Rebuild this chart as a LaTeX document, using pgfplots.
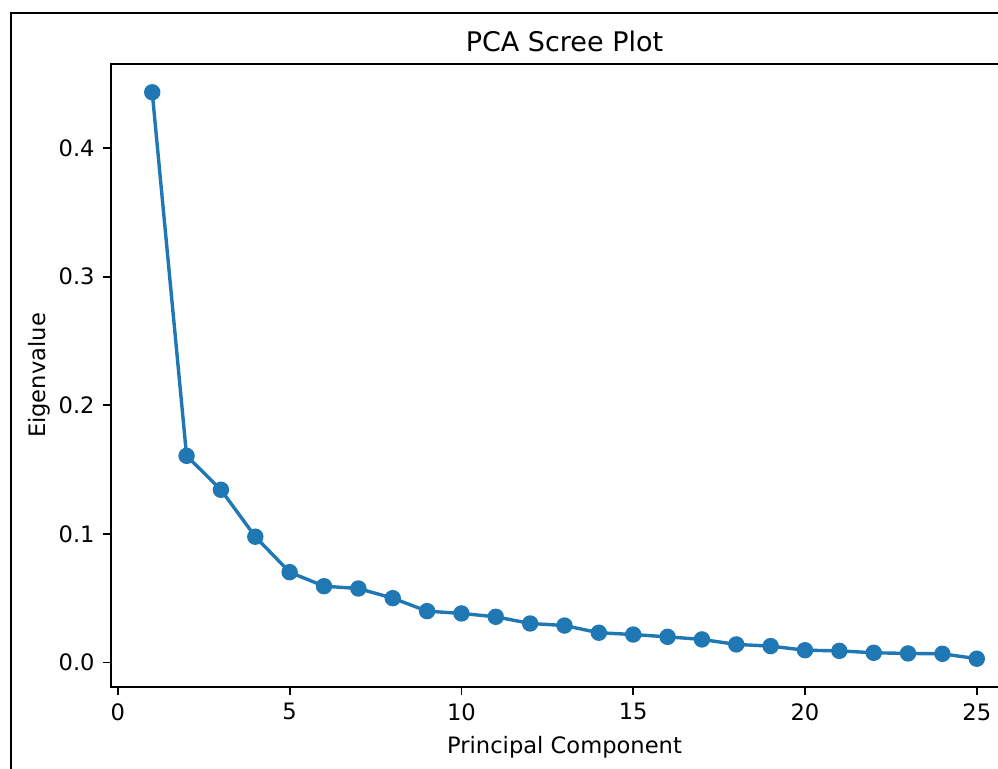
\documentclass[border=0pt]{standalone}
\usepackage{fontspec}
\setmainfont{DejaVu Sans}
\usepackage{pgfplots}
\pgfplotsset{compat=1.18}
\definecolor{mplblue}{HTML}{1F77B4}

\begin{document}
\begin{tikzpicture}
% picture = 998 x 769 px at 0.5pt per px
\useasboundingbox (0,0) rectangle (499pt,384.5pt);
\clip (0,0) rectangle (499pt,384.5pt);
% outer figure frame (cut by the crop on the right and bottom)
\draw[line width=1pt] (5.5pt,-20pt) rectangle (540pt,378pt);
\begin{axis}[
  at={(55.5pt,41pt)}, anchor=south west,
  scale only axis, width=453.5pt, height=311.5pt,
  xmin=-0.2, xmax=26.2, ymin=-0.0191, ymax=0.4655,
  xtick={0,5,10,15,20,25},
  ytick={0,0.1,0.2,0.3,0.4},
  yticklabel={\pgfmathprintnumber[fixed,fixed zerofill,precision=1]{\tick}},
  /pgf/number format/assume math mode=true,
  tick align=outside, major tick length=4pt,
  xtick pos=bottom, ytick pos=left,
  tick style={line width=0.9pt, black},
  axis line style={line width=0.9pt},
  ticklabel style={font=\fontsize{11.3}{13}\selectfont, inner sep=0pt},
  xticklabel style={anchor=north, yshift=-4pt},
  yticklabel style={anchor=east, xshift=-4pt},
  every axis title shift=0pt,
  title={PCA Scree Plot},
  title style={font=\fontsize{13.5}{16}\selectfont, at={(axis description cs:0.5,1.0193)}, anchor=base, inner sep=0pt},
  xlabel={Principal Component},
  xlabel style={font=\fontsize{11.3}{13}\selectfont, at={(axis description cs:0.5,-0.1064)}, anchor=base, inner sep=0pt},
  ylabel={Eigenvalue},
  ylabel style={font=\fontsize{11.3}{13}\selectfont, at={(axis description cs:-0.0717,0.5)}, anchor=base, inner sep=0pt},
  clip=false,
]
\addplot[color=mplblue, line width=1.7pt, mark=*, mark size=3.6pt,
  mark options={fill=mplblue, draw=mplblue, line width=1pt}] coordinates {
  (1,0.4435) (2,0.1607) (3,0.1343) (4,0.0978) (5,0.0702)
  (6,0.0593) (7,0.0575) (8,0.0500) (9,0.0399) (10,0.0381)
  (11,0.0355) (12,0.0303) (13,0.0287) (14,0.0231) (15,0.0217)
  (16,0.0199) (17,0.0179) (18,0.0140) (19,0.0127) (20,0.0095)
  (21,0.0090) (22,0.0075) (23,0.0070) (24,0.0067) (25,0.0029)
};
\end{axis}
\end{tikzpicture}
\end{document}
